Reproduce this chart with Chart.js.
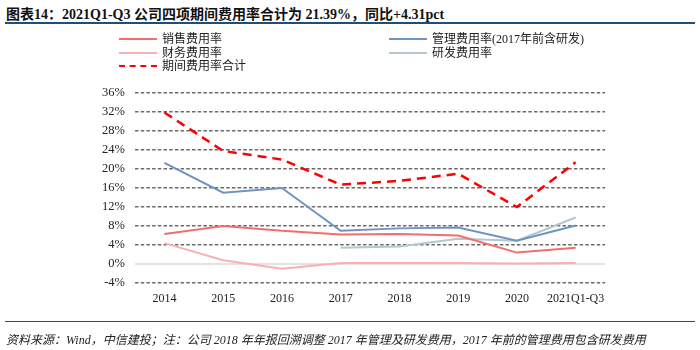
<!DOCTYPE html>
<html>
<head>
<meta charset="utf-8">
<script src="https://cdn.jsdelivr.net/npm/chart.js@4.4.0/dist/chart.umd.min.js"></script>
<style>
  body { margin: 0; width: 700px; height: 350px; background: #fff; position: relative; overflow: hidden;
         font-family: "Liberation Serif", "Noto Sans CJK SC", serif; }
  #title { position: absolute; left: 6px; top: 3px; font-size: 14px; font-weight: bold; color: #111; white-space: nowrap; }
  #topLine { position: absolute; left: 5px; right: 5px; top: 22px; height: 2px; background: #1f4e79; }
  #bottomLine { position: absolute; left: 5px; right: 5px; top: 321px; height: 1px; background: #1f4e79; }
  #source { position: absolute; left: 6px; top: 330px; font-size: 12px; font-style: italic; color: #222; white-space: nowrap; }
  #legend { position: absolute; left: 0; top: 0; }
  .item { position: absolute; font-size: 12px; line-height: 14px; color: #222; white-space: nowrap; display: flex; align-items: center; }
  .swatch { width: 38px; height: 0; margin-right: 5px; }
  canvas { position: absolute; left: 0; top: 0; }
</style>
</head>
<body>
<div id="title">图表14：2021Q1-Q3 公司四项期间费用率合计为 21.39%，同比+4.31pct</div>
<div id="topLine"></div>
<canvas id="chart" width="700" height="350"></canvas>
<div id="legend"></div>
<div id="bottomLine"></div>
<div id="source">资料来源：Wind，中信建投；注：公司 2018 年年报回溯调整 2017 年管理及研发费用，2017 年前的管理费用包含研发费用</div>
<script>
const categories = ["2014", "2015", "2016", "2017", "2018", "2019", "2020", "2021Q1-Q3"];
const salesRate = [6.3, 8.0, 7.0, 6.2, 6.3, 6.0, 2.4, 3.4];
const adminRate = [21.3, 15.0, 16.0, 7.0, 7.5, 7.7, 4.9, 8.1];
const financeRate = [4.4, 0.8, -1.0, 0.2, 0.2, 0.2, 0.1, 0.2];
const rdRate = [null, null, null, 3.4, 3.7, 5.3, 4.9, 9.8];
const totalRate = [31.9, 23.8, 22.0, 16.7, 17.5, 19.0, 12.0, 21.4];
const yTicks = [-4, 0, 4, 8, 12, 16, 20, 24, 28, 32, 36];

const series = [
  { label: "销售费用率", data: salesRate, color: "#f26d6f", width: 2, dash: [], col: 0, row: 0 },
  { label: "管理费用率(2017年前含研发)", data: adminRate, color: "#6f94c2", width: 2, dash: [], col: 1, row: 0 },
  { label: "财务费用率", data: financeRate, color: "#f8b1b2", width: 2, dash: [], col: 0, row: 1 },
  { label: "研发费用率", data: rdRate, color: "#b3c7cc", width: 2, dash: [], col: 1, row: 1 },
  { label: "期间费用率合计", data: totalRate, color: "#ff0000", width: 2.5, dash: [9, 6], col: 0, row: 2 }
];

// legend in two columns
const legend = document.getElementById("legend");
series.forEach(s => {
  const item = document.createElement("div");
  item.className = "item";
  item.style.left = (s.col === 0 ? 119 : 389) + "px";
  item.style.top = (32 + s.row * 13.6) + "px";
  const sw = document.createElement("span");
  sw.className = "swatch";
  sw.style.borderTop = (s.dash.length ? "2.5px dashed " : "2.5px solid ") + s.color;
  item.appendChild(sw);
  item.appendChild(document.createTextNode(s.label));
  legend.appendChild(item);
});

const zeroLine = {
  id: "zeroLine",
  beforeDatasetsDraw(chart) {
    const { ctx, chartArea, scales } = chart;
    const y = scales.y.getPixelForValue(0);
    ctx.save();
    ctx.strokeStyle = "#e2e2e2";
    ctx.lineWidth = 2;
    ctx.beginPath();
    ctx.moveTo(chartArea.left, y);
    ctx.lineTo(chartArea.right, y);
    ctx.stroke();
    ctx.restore();
  }
};

new Chart(document.getElementById("chart"), {
  type: "line",
  data: {
    labels: categories,
    datasets: series.map(s => ({
      label: s.label,
      data: s.data,
      borderColor: s.color,
      backgroundColor: s.color,
      borderWidth: s.width,
      borderDash: s.dash,
      pointRadius: 0,
      tension: 0,
      fill: false
    }))
  },
  options: {
    responsive: false,
    animation: false,
    layout: { padding: { left: 90, right: 95, top: 93, bottom: 42 } },
    plugins: { legend: { display: false }, tooltip: { enabled: false } },
    scales: {
      x: {
        offset: true,
        grid: { display: false },
        border: { display: false },
        ticks: { color: "#222", font: { family: "Liberation Serif", size: 12 }, padding: 1, maxRotation: 0, autoSkip: false },
        afterFit: s => { s.height = 25; }
      },
      y: {
        min: -4,
        max: 36,
        afterBuildTicks: s => { s.ticks = yTicks.map(v => ({ value: v })); },
        grid: {
          drawTicks: false,
          color: c => (c.tick && c.tick.value === 0) ? "rgba(0,0,0,0)" : "#6a6a6a",
          lineWidth: 1.6
        },
        border: { display: false, dash: [3.5, 2.2] },
        ticks: {
          color: "#222",
          font: { family: "Liberation Serif", size: 12.5 },
          padding: 10,
          callback: v => v + "%"
        },
        afterFit: s => { s.width = 45; }
      }
    }
  },
  plugins: [zeroLine]
});
</script>
</body>
</html>
